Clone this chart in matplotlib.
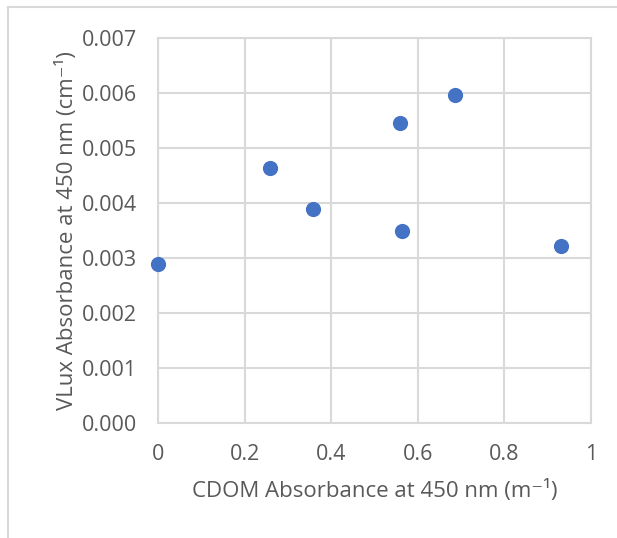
import matplotlib
matplotlib.use("Agg")
import matplotlib.pyplot as plt
from matplotlib.lines import Line2D

x_vals = [0.0, 0.258, 0.358, 0.558, 0.563, 0.685, 0.93]
y_vals = [0.00289, 0.00464, 0.00389, 0.00546, 0.00349, 0.00597, 0.00322]
x_ticks = [0, 0.2, 0.4, 0.6, 0.8, 1]
x_labels = ["0", "0.2", "0.4", "0.6", "0.8", "1"]
y_ticks = [0.000, 0.001, 0.002, 0.003, 0.004, 0.005, 0.006, 0.007]
y_labels = ["0.000", "0.001", "0.002", "0.003", "0.004", "0.005", "0.006", "0.007"]

plt.rcParams['font.family'] = ['Open Sans', 'DejaVu Sans']
txt = '#595959'
grid = '#D9D9D9'

fig = plt.figure(figsize=(6.17, 5.38), dpi=100)
W, H = 617, 538
ax = fig.add_axes([158 / W, 1 - 423 / H, (591 - 158) / W, (423 - 38) / H])
ax.scatter(x_vals, y_vals, s=120, color='#4472C4', zorder=3, clip_on=False, linewidths=0)
ax.set_xlim(0, 1)
ax.set_ylim(0, 0.007)
ax.set_xticks(x_ticks)
ax.set_xticklabels(x_labels)
ax.set_yticks(y_ticks)
ax.set_yticklabels(y_labels)
ax.grid(True, color=grid, linewidth=1.5)
for s in ax.spines.values():
    s.set_color(grid)
    s.set_linewidth(1.5)
ax.tick_params(length=0, colors=txt, labelsize=15.5, pad=15)
ax.set_xlabel("CDOM Absorbance at 450 nm (m\u207b\u00b9)", color=txt, fontsize=16, labelpad=11)
ax.set_ylabel("VLux Absorbance at 450 nm (cm\u207b\u00b9)", color=txt, fontsize=16, labelpad=3)

# outer frame lines (top and left)
fig.add_artist(Line2D([8 / W, 1], [1 - 7 / H, 1 - 7 / H], color='#D9D9D9', linewidth=1.5, transform=fig.transFigure))
fig.add_artist(Line2D([8 / W, 8 / W], [0, 1 - 7 / H], color='#D9D9D9', linewidth=1.5, transform=fig.transFigure))

fig.savefig("out.png", dpi=100)
